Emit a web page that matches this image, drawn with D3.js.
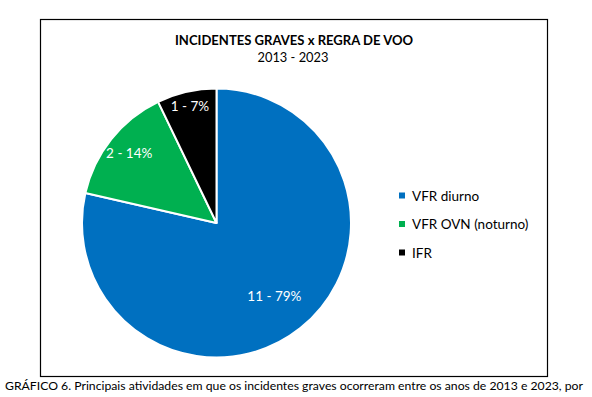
<!DOCTYPE html>
<html><head><meta charset="utf-8">
<script src="https://cdn.jsdelivr.net/npm/d3@7"></script>
<style>body{margin:0;background:#fff}svg{display:block}</style>
</head><body>
<svg id="c" width="592" height="397"></svg>
<script>
const categories = ["VFR diurno", "VFR OVN (noturno)", "IFR"];
const values = [11, 2, 1];
const percentLabels = ["79%", "14%", "7%"];
const colors = ["#0070C0", "#00B050", "#000000"];
const title = "INCIDENTES GRAVES x REGRA DE VOO";
const subtitle = "2013 - 2023";
const caption = "GRÁFICO 6. Principais atividades em que os incidentes graves ocorreram entre os anos de 2013 e 2023, por";

const svg = d3.select("#c");
const font = "Lato, 'Open Sans', sans-serif";

// chart box
svg.append("rect").attr("x", 40.5).attr("y", 19.5).attr("width", 507).attr("height", 357)
  .attr("fill", "#fff").attr("stroke", "#000").attr("stroke-width", 1.2);

// title
svg.append("text").attr("x", 294).attr("y", 45).attr("text-anchor", "middle")
  .attr("font-family", font).attr("font-weight", "bold").attr("font-size", 14)
  .attr("textLength", 238).attr("lengthAdjust", "spacingAndGlyphs").text(title);
svg.append("text").attr("x", 293).attr("y", 61.5).attr("text-anchor", "middle")
  .attr("font-family", font).attr("font-size", 14)
  .attr("textLength", 71).attr("lengthAdjust", "spacingAndGlyphs").text(subtitle);

// pie
const cx = 216.5, cy = 223, R = 134.5;
const pie = d3.pie().sort(null).value(d => d)(values);
const arc = d3.arc().innerRadius(0).outerRadius(R);
const g = svg.append("g").attr("transform", `translate(${cx},${cy})`);
g.selectAll("path").data(pie).join("path")
  .attr("d", arc).attr("fill", (d, i) => colors[i])
  .attr("stroke", "#fff").attr("stroke-width", 2).attr("stroke-linejoin", "round");

const labelR = [0.69, 0.83, 0.89];
g.selectAll("text.lbl").data(pie).join("text").attr("class", "lbl")
  .attr("transform", (d, i) => {
    const a = (d.startAngle + d.endAngle) / 2;
    const r = R * labelR[i];
    return `translate(${r * Math.sin(a)},${-r * Math.cos(a)})`;
  })
  .attr("text-anchor", "middle").attr("dominant-baseline", "central")
  .attr("font-family", font).attr("font-size", 13.5).attr("fill", "#fff")
  .text((d, i) => `${values[i]} - ${percentLabels[i]}`);

// legend
const lg = svg.append("g").attr("transform", "translate(399,195.5)");
const items = lg.selectAll("g").data(categories).join("g")
  .attr("transform", (d, i) => `translate(0,${i * 28.5})`);
items.append("rect").attr("x", 0).attr("y", -3).attr("width", 6).attr("height", 6)
  .attr("fill", (d, i) => colors[i]);
items.append("text").attr("x", 13).attr("y", 0).attr("dominant-baseline", "central")
  .attr("font-family", font).attr("font-size", 13.5).attr("fill", "#000").text(d => d);

// caption
svg.append("text").attr("x", 5).attr("y", 390)
  .attr("font-family", font).attr("font-size", 12).attr("fill", "#000")
  .attr("textLength", 578).attr("lengthAdjust", "spacingAndGlyphs").text(caption);
</script>
</body></html>
